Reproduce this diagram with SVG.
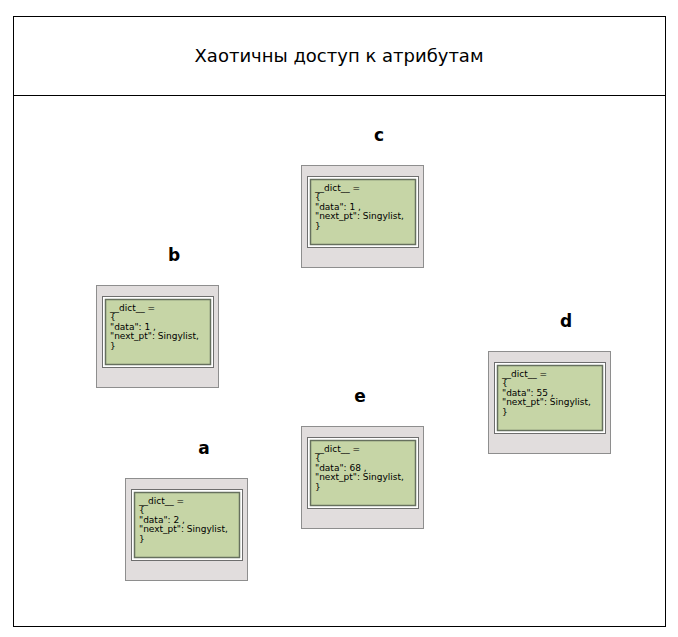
<svg xmlns="http://www.w3.org/2000/svg" width="678" height="637" viewBox="0 0 678 637">
<style>
.outer{fill:#e1dddd;stroke:#8e8e8e;stroke-width:1}
.frame{fill:#ffffff;stroke:#6e6e6e;stroke-width:1}
.green{fill:#c6d5a6;stroke:#66705e;stroke-width:1.5}
.t{font-family:"DejaVu Sans",sans-serif;font-size:9px;fill:#000}
.lbl{font-family:"DejaVu Sans",sans-serif;font-size:17px;font-weight:bold;fill:#000;text-anchor:middle}
.title{font-family:"DejaVu Sans",sans-serif;font-size:18px;fill:#000;text-anchor:middle}
</style>
<defs>
<g id="box">
<rect class="outer" x="0.5" y="0.5" width="122" height="102"/>
<rect class="frame" x="6.5" y="11.5" width="111" height="71"/>
<rect class="green" x="9.5" y="14.5" width="105" height="65"/>
</g>
</defs>
<rect x="0" y="0" width="678" height="637" fill="#ffffff"/>
<g id="frame">
<rect x="13.5" y="16.5" width="652" height="610" fill="none" stroke="#000" stroke-width="1"/>
<line x1="13.5" y1="95.5" x2="665.5" y2="95.5" stroke="#000" stroke-width="1"/>
<text class="title" x="339" y="62">Хаотичны доступ к атрибутам</text>
</g>
<g id="connectors"></g>
<g id="node-c" transform="translate(301,165)">
<text class="lbl" x="78" y="-24">c</text>
<use href="#box"/>
<text class="t" x="14" y="25.5">__dict__ =</text>
<text class="t" x="14" y="35">{</text>
<text class="t" x="14" y="44.5">"data": 1 ,</text>
<text class="t" x="14" y="54">"next_pt": Singylist,</text>
<text class="t" x="14" y="63.5">}</text>
</g>
<g id="node-b" transform="translate(96,285)">
<text class="lbl" x="78" y="-24">b</text>
<use href="#box"/>
<text class="t" x="14" y="25.5">__dict__ =</text>
<text class="t" x="14" y="35">{</text>
<text class="t" x="14" y="44.5">"data": 1 ,</text>
<text class="t" x="14" y="54">"next_pt": Singylist,</text>
<text class="t" x="14" y="63.5">}</text>
</g>
<g id="node-d" transform="translate(488,351)">
<text class="lbl" x="78" y="-24">d</text>
<use href="#box"/>
<text class="t" x="14" y="25.5">__dict__ =</text>
<text class="t" x="14" y="35">{</text>
<text class="t" x="14" y="44.5">"data": 55 ,</text>
<text class="t" x="14" y="54">"next_pt": Singylist,</text>
<text class="t" x="14" y="63.5">}</text>
</g>
<g id="node-e" transform="translate(301,426)">
<text class="lbl" x="59" y="-24">e</text>
<use href="#box"/>
<text class="t" x="14" y="25.5">__dict__ =</text>
<text class="t" x="14" y="35">{</text>
<text class="t" x="14" y="44.5">"data": 68 ,</text>
<text class="t" x="14" y="54">"next_pt": Singylist,</text>
<text class="t" x="14" y="63.5">}</text>
</g>
<g id="node-a" transform="translate(125,478)">
<text class="lbl" x="79" y="-24">a</text>
<use href="#box"/>
<text class="t" x="14" y="25.5">__dict__ =</text>
<text class="t" x="14" y="35">{</text>
<text class="t" x="14" y="44.5">"data": 2 ,</text>
<text class="t" x="14" y="54">"next_pt": Singylist,</text>
<text class="t" x="14" y="63.5">}</text>
</g>
</svg>
